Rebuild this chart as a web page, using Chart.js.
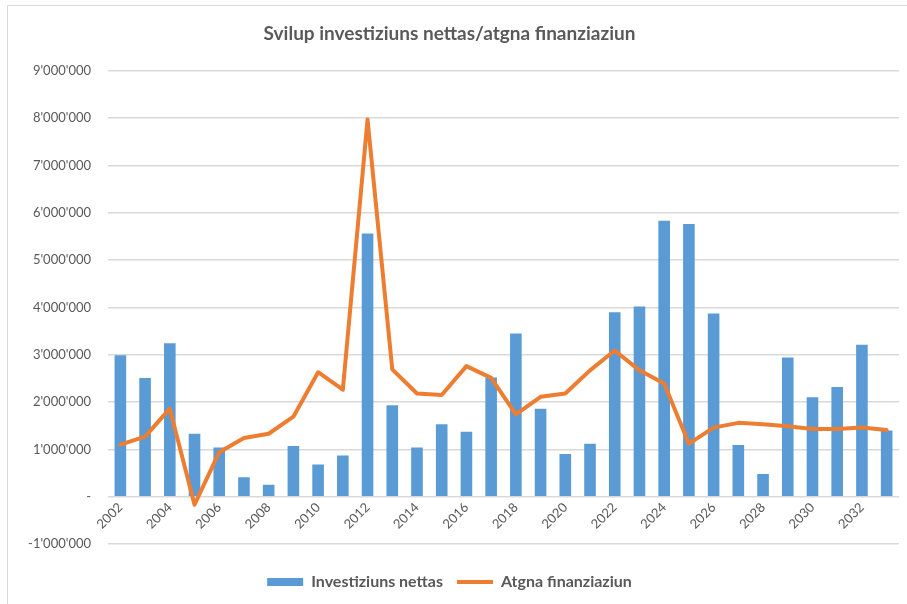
<!DOCTYPE html>
<html>
<head>
<meta charset="utf-8">
<script src="https://cdn.jsdelivr.net/npm/chart.js@4.4.0/dist/chart.umd.min.js"></script>
<style>
  html, body { margin: 0; padding: 0; background: #fff; }
  #wrap { position: relative; width: 907px; height: 604px; }
  #frame { position: absolute; left: 7px; top: 5px; right: -2px; bottom: -2px; border-left: 1px solid #d9d9d9; border-top: 1px solid #d9d9d9; pointer-events: none; }
  canvas { position: absolute; left: 0; top: 0; }
</style>
</head>
<body>
<div id="wrap">
  <canvas id="chart" width="907" height="604"></canvas>
  <div id="frame"></div>
</div>
<script>
// 데이터
const years = [2002, 2003, 2004, 2005, 2006, 2007, 2008, 2009, 2010, 2011,
               2012, 2013, 2014, 2015, 2016, 2017, 2018, 2019, 2020, 2021,
               2022, 2023, 2024, 2025, 2026, 2027, 2028, 2029, 2030, 2031,
               2032, 2033];

// Investiziuns nettas (bars)
const investiziuns = [2990000, 2510000, 3240000, 1330000, 1040000, 410000, 250000, 1070000, 680000, 870000,
                      5560000, 1930000, 1040000, 1530000, 1370000, 2520000, 3450000, 1860000, 900000, 1120000,
                      3900000, 4020000, 5830000, 5760000, 3870000, 1090000, 480000, 2940000, 2100000, 2320000,
                      3210000, 1400000];

// Atgna finanziaziun (line)
const finanziaziun = [1100000, 1270000, 1860000, -170000, 940000, 1240000, 1330000, 1690000, 2630000, 2260000,
                      7970000, 2690000, 2180000, 2150000, 2760000, 2510000, 1740000, 2110000, 2180000, 2670000,
                      3090000, 2670000, 2390000, 1120000, 1460000, 1560000, 1530000, 1490000, 1430000, 1430000,
                      1460000, 1410000];

const yMin = -1000000;
const yMax = 9000000;
const yStep = 1000000;

const gray = '#595959';
const fontFamily = 'Lato, "Open Sans", sans-serif';

// 숫자 형식: 9'000'000, 0 -> "-"
function fmt(v) {
    if (v === 0) return '-';
    const s = Math.abs(v).toFixed(0).replace(/\B(?=(\d{3})+(?!\d))/g, "'");
    return (v < 0 ? '-' : '') + s;
}

const ctx = document.getElementById('chart').getContext('2d');
new Chart(ctx, {
    data: {
        labels: years.map(String),
        datasets: [
            {
                type: 'line',
                label: 'Atgna finanziaziun',
                data: finanziaziun,
                borderColor: '#ED7D31',
                backgroundColor: '#ED7D31',
                borderWidth: 4,
                pointRadius: 0,
                tension: 0,
                borderJoinStyle: 'round',
                borderCapStyle: 'round',
                pointStyle: 'line',
                order: 1,
            },
            {
                type: 'bar',
                label: 'Investiziuns nettas',
                data: investiziuns,
                backgroundColor: '#5B9BD5',
                categoryPercentage: 1,
                barPercentage: 0.47,
                pointStyle: 'rect',
                order: 2,
            },
        ],
    },
    options: {
        responsive: false,
        animation: false,
        layout: { padding: { left: 0, right: 8, top: 0, bottom: 4 } },
        plugins: {
            title: {
                display: true,
                text: 'Svilup investiziuns nettas/atgna finanziaziun',
                color: gray,
                font: { family: fontFamily, size: 19, weight: 'bold' },
                padding: { top: 22, bottom: 26 },
            },
            legend: {
                position: 'bottom',
                reverse: true,
                labels: {
                    color: gray,
                    font: { family: fontFamily, size: 16, weight: 'bold' },
                    usePointStyle: true,
                    pointStyleWidth: 36,
                    boxHeight: 8,
                    padding: 14,
                },
            },
            tooltip: { enabled: false },
        },
        scales: {
            x: {
                position: { y: 0 },
                grid: { display: false, drawTicks: false },
                border: { display: false },
                ticks: {
                    color: gray,
                    font: { family: fontFamily, size: 13 },
                    autoSkip: false,
                    maxRotation: 45,
                    minRotation: 45,
                    padding: 3,
                    callback: function (val, i) {
                        return i % 2 === 0 ? years[i] : '';
                    },
                },
            },
            // 빈 공간용 축 (차트 영역과 범례 사이 간격)
            gap: {
                type: 'category',
                position: 'bottom',
                grid: { display: false, drawTicks: false },
                border: { display: false },
                ticks: { display: false },
                afterFit: function (scale) { scale.height = 16; },
            },
            y: {
                min: yMin,
                max: yMax,
                grid: { color: '#d9d9d9', lineWidth: 1.5, drawTicks: false },
                border: { display: false },
                ticks: {
                    stepSize: yStep,
                    color: gray,
                    font: { family: fontFamily, size: 13 },
                    padding: 17,
                    callback: fmt,
                },
                afterFit: function (scale) { scale.width = 108; },
            },
        },
    },
});
</script>
</body>
</html>
